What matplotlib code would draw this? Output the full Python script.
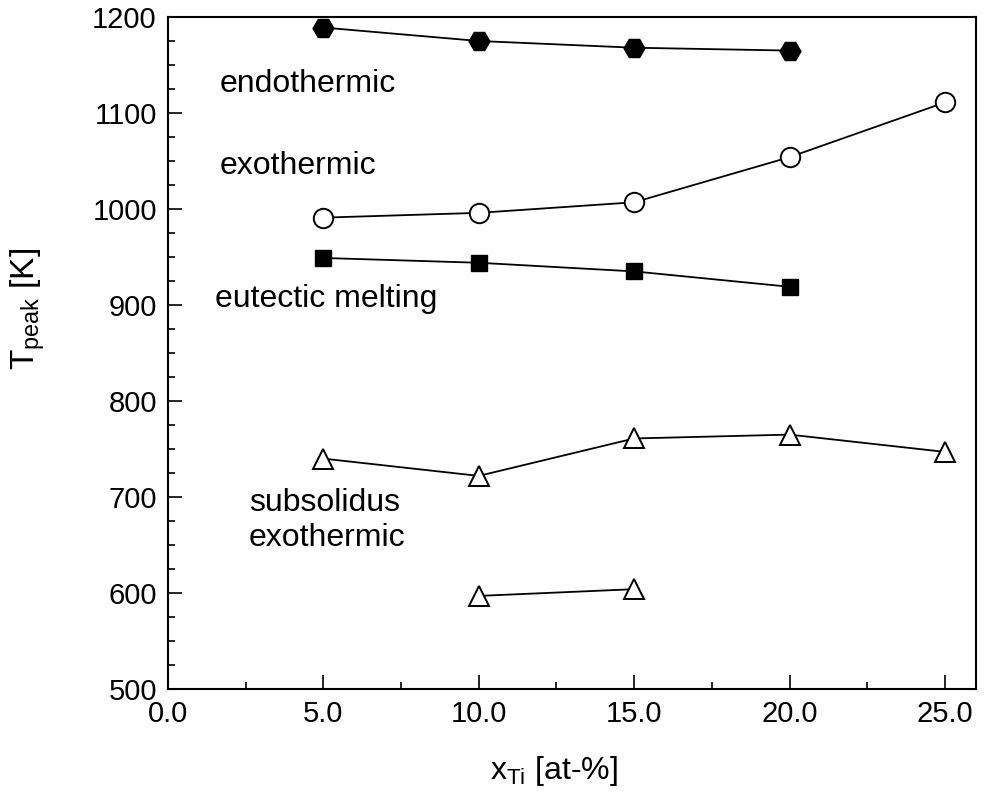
import matplotlib.pyplot as plt
from matplotlib.ticker import MultipleLocator, FormatStrFormatter

plt.rcParams['font.family'] = ['Liberation Sans', 'DejaVu Sans']
plt.rcParams['mathtext.fontset'] = 'custom'
plt.rcParams['mathtext.rm'] = 'Liberation Sans'

out_file = "out.png"

# peak temperatures [K] vs Ti content [at-%]
x_endo = [5, 10, 15, 20]
t_endo = [1189, 1175, 1168, 1165]

x_exo = [5, 10, 15, 20, 25]
t_exo = [991, 996, 1007, 1054, 1111]

x_eut = [5, 10, 15, 20]
t_eut = [949, 944, 935, 919]

x_sub1 = [5, 10, 15, 20, 25]
t_sub1 = [740, 722, 761, 765, 747]

x_sub2 = [10, 15]
t_sub2 = [597, 604]

fig = plt.figure(figsize=(9.84, 7.94), dpi=100)
ax = fig.add_axes([0.1707, 0.1322, 0.8212, 0.8464])

lw = 1.3
ax.plot(x_endo, t_endo, '-', color='black', lw=lw, marker='H', ms=15,
        mfc='black', mec='black')
ax.plot(x_exo, t_exo, '-', color='black', lw=lw, marker='o', ms=14,
        mfc='white', mec='black', mew=1.4)
ax.plot(x_eut, t_eut, '-', color='black', lw=lw, marker='s', ms=12,
        mfc='black', mec='black')
ax.plot(x_sub1, t_sub1, '-', color='black', lw=lw, marker='^', ms=14,
        mfc='white', mec='black', mew=1.4)
ax.plot(x_sub2, t_sub2, '-', color='black', lw=lw, marker='^', ms=14,
        mfc='white', mec='black', mew=1.4)

fs = 21
fa = 23
ax.text(1.67, 1130, 'endothermic', fontsize=fa, va='center')
ax.text(1.67, 1045, 'exothermic', fontsize=fa, va='center')
ax.text(1.5, 906, 'eutectic melting', fontsize=fa, va='center')
ax.text(2.6, 694, 'subsolidus', fontsize=fa, va='center')
ax.text(2.6, 657, 'exothermic', fontsize=fa, va='center')

ax.set_xlim(0, 26)
ax.set_ylim(500, 1200)

ax.xaxis.set_major_locator(MultipleLocator(5))
ax.xaxis.set_minor_locator(MultipleLocator(2.5))
ax.xaxis.set_major_formatter(FormatStrFormatter('%.1f'))
ax.yaxis.set_major_locator(MultipleLocator(100))
ax.yaxis.set_minor_locator(MultipleLocator(25))

ax.tick_params(which='both', direction='in', top=False, right=False,
               labelsize=fs, width=1.2)
ax.tick_params(which='major', length=10, pad=8)
ax.tick_params(which='minor', length=5)
for s in ax.spines.values():
    s.set_linewidth(1.5)

ax.set_xlabel(r'x$_{\mathregular{Ti}}$ [at-%]', fontsize=23)
ax.set_ylabel(r'T$_{\mathregular{peak}}$ [K]', fontsize=24)
ax.xaxis.set_label_coords(0.478, -0.097)
ax.yaxis.set_label_coords(-0.15, 0.565)

plt.savefig(out_file)
